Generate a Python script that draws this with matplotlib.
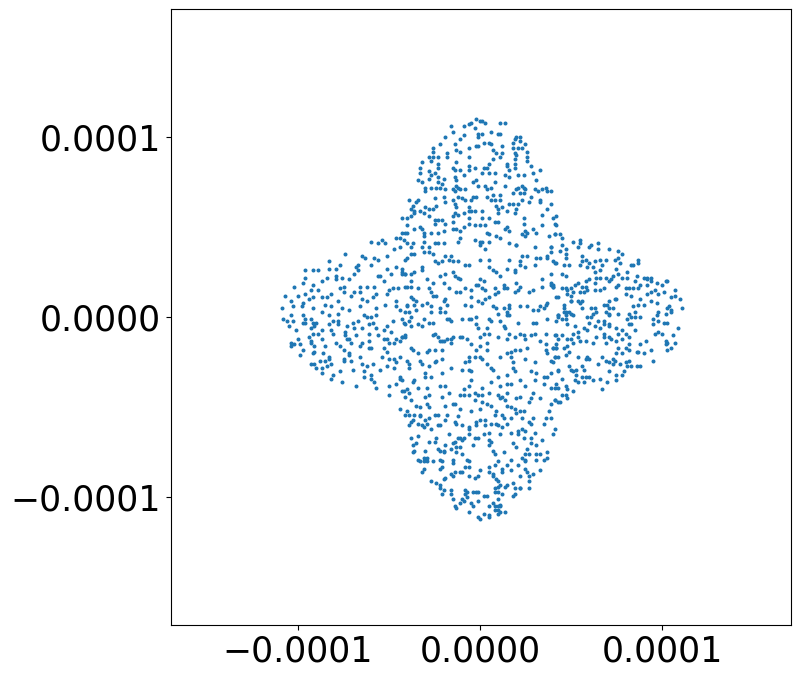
import numpy as np
import matplotlib
matplotlib.use("Agg")
import matplotlib.pyplot as plt

# Values, in units of 1e-6
left_lobe = [
(-109,5),(-107,12),(-102,17),(-96,26),(-96,22),(-92,26),(-89,26),(-83,31),(-74,35),(-83,27),(-79,27),(-77,29),
(-65,34),(-63,33),(-60,42),(-56,41),(-54,43),(-52,41),(-46,44),(-44,39),(-47,38),(-51,34),(-58,33),(-56,32),
(-60,29),(-68,28),(-67,29),(-67,26),(-69,24),(-76,22),(-79,23),(-79,21),(-84,22),(-87,20),(-92,18),(-97,19),
(-100,12),(-96,13),(-93,15),(-89,15),(-82,13),(-84,11),(-87,11),(-92,11),(-94,10),(-97,8),(-104,9),(-103,6),
(-98,6),(-92,5),(-87,3),(-85,7),(-82,6),(-78,9),(-76,5),(-72,4),(-72,21),(-75,17),(-77,16),(-66,17),(-62,17),
(-58,17),(-69,14),(-66,14),(-71,12),(-75,14),(-65,10),(-62,9),(-66,6),(-59,11),(-57,13),(-51,13),(-50,15),
(-57,5),(-52,7),(-46,9),(-48,16),(-53,20),(-56,23),(-55,23),(-51,27),(-46,28),(-41,24),(-43,25),(-49,24),
(-41,17),(-45,16),(-40,6),(-46,6),(-104,1),(-108,-1),(-106,-2),(-103,-2),(-105,-5),(-101,-7),(-97,1),(-96,-1),
(-97,-3),(-96,-3),(-93,-1),(-92,-3),(-90,-3),(-93,-6),(-91,-5),(-89,-9),(-87,-7),(-92,-9),(-94,-11),(-100,-12),
(-104,-14),(-104,-16),(-102,-15),(-99,-15),(-97,-18),(-99,-21),(-93,-13),(-93,-14),(-91,-16),(-87,-12),(-85,-16),
(-92,-20),(-91,-19),(-86,-20),(-83,-22),(-83,-23),(-85,-24),(-82,-26),(-84,-27),(-91,-26),(-93,-26),(-88,-24),
(-90,-28),(-87,-28),(-87,-31),(-81,-32),(-82,-34),(-77,-30),(-76,-36),(-68,-38),(-83,1),(-78,2),(-81,-2),(-78,-2),
(-83,-4),(-78,-4),(-82,-7),(-81,-9),(-73,-5),(-74,-8),(-74,-10),(-70,-3),(-67,-2),(-69,-6),(-68,-10),(-72,-12),
(-73,-12),(-71,-14),(-79,-14),(-77,-16),(-75,-18),(-72,-20),(-72,-21),(-75,-23),(-75,-24),(-71,-24),(-66,-22),
(-65,-14),(-66,-16),(-61,-13),(-61,-17),(-60,-17),(-65,-26),(-62,-27),(-59,-26),(-64,-30),(-64,-33),(-60,-32),
(-60,-34),(-58,-36),(-57,-39),(-70,-29),(-55,-29),(-54,-22),(-50,-23),(-47,-23),(-44,-22),(-46,-25),(-47,-28),
(-51,-27),(-53,-17),(-51,-19),(-50,-14),(-47,-14),(-46,-12),(-43,-11),(-41,-10),(-53,-12),(-51,-12),(-56,-10),
(-57,-6),(-53,-7),(-51,-5),(-49,-8),(-48,-2),(-61,-4),(-59,-3),(-57,1),(-60,0),(-64,1),(-62,0),(-65,-6),(-61,-9),
(-42,-3),(-39,3),(-50,-38),(-46,-37),(-44,-34),(-40,-40),(-42,-41),(-50,-43),
]

right_lobe = [
(51,42),(55,43),(55,41),(54,39),(45,40),(44,37),(47,38),(47,35),(47,33),(39,39),(39,36),(41,46),(44,46),(45,44),
(60,39),(61,40),(65,41),(65,38),(71,38),(74,32),(76,37),(78,35),(76,33),(77,30),(87,32),(87,30),(84,29),(83,29),
(69,32),(66,32),(63,31),(60,30),(58,32),(56,31),(56,34),(55,29),(59,28),(62,28),(67,29),(66,26),(63,25),(75,27),
(46,29),(49,29),(41,30),(45,24),(47,23),(64,22),(66,22),(69,22),(71,20),(73,23),(76,24),(78,22),(81,25),(81,22),
(86,23),(85,20),(90,22),(92,22),(94,22),(92,21),(94,20),(92,18),(88,18),(97,19),(100,18),(102,20),(103,20),(84,16),
(82,16),(80,16),(87,16),(80,13),(83,12),(92,13),(94,14),(96,15),(98,13),(101,14),(107,15),(107,12),(105,11),(110,10),
(88,10),(87,7),(90,7),(94,9),(97,8),(104,6),(103,5),(111,5),(105,4),(105,3),(102,2),(98,3),(97,1),(95,-1),(98,-2),
(101,-3),(103,-3),(95,-4),(109,-6),(98,-8),(96,-9),(100,-9),(106,-10),(102,-13),(103,-14),(107,-14),(102,-15),
(105,-17),(103,-18),(94,-18),(91,-13),(95,-24),(90,-20),(86,-19),(88,-15),(85,-7),(84,6),(85,3),(82,2),(81,-1),
(83,0),(88,0),(85,0),(82,-4),(83,-4),(76,2),(73,5),(70,7),(68,7),(71,5),(75,10),(74,10),(71,9),(76,18),(75,17),
(68,16),(66,15),(63,15),(72,21),(63,19),(60,21),(58,20),(54,19),(52,18),(50,16),(56,17),(58,17),(59,15),(57,14),
(55,14),(51,14),(48,15),(45,16),(47,16),(48,13),(50,12),(43,11),(40,18),(39,18),(40,17),(50,9),(50,9),(54,9),(56,9),
(55,8),(46,7),(46,5),(46,3),(47,3),(49,3),(50,2),(51,1),(47,1),(56,5),(59,0),(61,5),(63,5),(64,3),(62,2),(61,0),
(69,3),(71,1),(71,2),(68,-2),(65,-2),(60,-3),(63,-5),(66,-6),(68,-4),(71,-4),(71,-5),(68,-9),(68,-11),(69,-14),
(64,-11),(43,1),(43,1),(45,-1),(47,-1),(48,-4),(52,-5),(51,-9),(54,-8),(57,-6),(59,-7),(54,-11),(55,-13),(58,-13),
(62,-14),(71,-11),(72,-12),(75,-13),(75,-6),(78,-7),(76,-9),(80,-9),(82,-11),(78,-12),(82,-15),(80,-17),(82,-18),
(76,-17),(75,-20),(78,-20),(87,-19),(42,-10),(45,-10),(43,-12),(48,-12),(50,-12),(51,-14),(48,-16),(46,-17),(42,-17),
(40,-17),(49,-19),(47,-21),(54,-22),(59,-22),(58,-23),(60,-23),(41,-22),(39,-24),(40,-25),(49,-27),(50,-29),(51,-30),
(53,-29),(56,-27),(57,-29),(53,-32),(56,-33),(58,-33),(60,-33),(62,-35),(66,-34),(70,-36),(67,-40),(75,-32),(75,-35),
(78,-32),(79,-30),(81,-27),(82,-24),(80,-25),(83,-27),(86,-27),(88,-27),(67,-22),(65,-26),(69,-24),(71,-25),(73,-23),
(74,-24),(73,-26),(77,-26),(71,-30),(52,-35),(54,-36),(57,-36),(45,-34),(47,-38),(48,-40),(51,-41),(41,-39),(43,-39),
(47,-43),(45,-43),(48,-45),(41,-46),(44,-47),(39,-31),(43,-29),
]

top_lobe = [
(-2,110),(0,109),(1,109),(3,108),(-5,108),(-6,107),(-9,106),(-16,106),(-15,103),(-19,100),(11,108),(14,108),
(-3,105),(-1,102),(1,102),(6,103),(10,102),(11,102),(-9,101),(-11,99),(-1,100),(2,97),(5,97),(6,96),(7,93),(-14,96),
(-22,96),(-13,93),(-11,92),(-2,95),(-1,95),(-6,94),(12,95),(20,100),(22,100),(19,99),(22,98),(18,97),(25,96),(21,94),
(23,94),(18,94),(19,91),(20,90),(26,92),(26,89),(26,87),(19,88),(-26,94),(-26,92),(-28,89),(-26,89),(-27,87),(-23,89),
(-18,91),(-18,89),(-32,86),(-23,85),(-13,86),(-6,89),(12,91),(11,89),(9,91),(7,88),(5,85),(15,85),(19,85),(15,84),
(16,82),(28,84),(33,82),(29,80),(24,79),(19,83),(-23,83),(-33,83),(-33,80),(-28,81),(-27,79),(-25,80),(-15,83),(-14,82),
(-11,82),(-6,84),(-3,83),(-6,82),(2,83),(4,83),(1,80),(5,80),(8,80),(-9,79),(-14,78),(-2,76),(-4,75),(-13,76),(-13,73),
(-12,72),(-23,78),(-23,75),(-21,74),(-20,77),(-28,77),(-34,76),(-32,75),(14,79),(16,78),(21,79),(31,76),(8,75),(14,73),
(3,73),(4,71),(6,72),(-30,72),(-30,70),(-27,72),(-24,72),(-22,72),(-19,71),(-15,71),(-14,70),(-11,71),(-8,71),(-1,73),
(21,72),(23,73),(24,72),(20,71),(18,69),(22,69),(24,69),(25,71),(30,71),(32,70),(36,72),(34,71),(37,70),(39,70),(28,67),
(33,65),(33,64),(27,64),(37,60),(39,63),(-39,65),(-34,65),(-35,64),(-37,62),(-25,66),(-20,67),(-19,64),(-24,62),(-15,65),
(-14,63),(-12,67),(-10,66),(-8,65),(-5,65),(-4,67),(-2,67),(4,67),(6,65),(7,68),(11,68),(11,65),(8,65),(9,62),(10,60),
(12,61),(16,63),(18,63),(21,63),(23,65),(20,60),(-38,60),(-36,59),(-33,59),(-30,61),(-28,60),(-26,60),(-13,61),(-6,61),
(-5,59),(-6,59),(-3,59),(1,59),(-12,57),(-14,58),(-15,56),(-15,53),(-36,58),(-38,56),(-40,55),(-43,55),(-31,58),(-28,56),
(-25,54),(-23,54),(-21,54),(-9,58),(-6,55),(-6,52),(-3,51),(0,51),(1,55),(5,55),(8,53),(10,53),(10,58),(15,59),(19,58),
(24,55),(24,52),(34,57),(40,55),(42,56),(41,52),(34,51),(-19,52),(-25,52),(-36,49),(-40,51),(-33,50),(-32,49),(-15,49),
(-13,49),(-11,48),(-9,50),(3,51),(15,50),(14,49),(16,48),(25,48),(26,47),(23,46),(25,45),(29,49),(31,47),(38,45),(41,46),
(42,51),(-43,47),(-41,47),(-40,47),(-44,44),(-42,43),(-31,47),(-31,45),(-27,47),(-23,47),(-20,48),(4,47),(5,46),(9,45),
(11,44),(-11,44),(-12,42),(-3,43),(0,42),(1,42),(-31,42),(-37,41),(-40,41),(-28,39),(-25,41),(-23,41),(-20,41),(-32,39),
(-38,39),(0,40),(3,38),(5,42),(16,41),(20,40),(20,40),(30,39),(39,39),
]

centre = [
(-38,35),(-36,35),(-31,36),(-28,36),(-26,35),(-40,33),(-41,32),(-19,34),(-16,34),(-17,32),(-15,31),(-12,31),(-25,31),
(-23,30),(-21,31),(-8,29),(-6,29),(0,32),(5,32),(5,28),(16,32),(15,27),(22,31),(22,29),(25,28),(26,34),(23,34),(30,29),
(31,33),(33,33),(37,34),(37,33),(40,31),(42,30),(-43,27),(-32,28),(-32,26),(-36,25),(-38,24),(-41,24),(-43,24),(-22,23),
(-19,24),(-15,25),(-14,23),(-12,22),(-11,21),(7,26),(9,25),(11,23),(19,25),(19,26),(34,21),(39,24),(0,21),(2,20),(-20,19),
(-26,19),(-38,20),(-40,17),(-38,17),(-34,16),(-29,21),(-28,16),(-27,14),(-26,12),(-24,12),(-17,16),(-8,16),(-5,15),(-2,18),
(-1,18),(1,16),(3,15),(8,16),(13,18),(13,16),(10,14),(8,13),(5,11),(15,16),(20,19),(22,17),(19,14),(21,15),(29,15),(27,14),
(34,17),(39,19),(40,17),(-13,14),(-11,14),(-5,11),(3,10),(-1,9),(1,8),(-19,10),(-20,9),(-37,10),(-35,9),(-38,11),(-36,7),
(-40,7),(-32,7),(-29,8),(-27,6),(-22,5),(-18,7),(-5,6),(-8,7),(7,6),(9,5),(13,5),(16,7),(16,5),(22,6),(26,6),(33,6),(36,7),
(37,8),(42,11),(-22,3),(-19,3),(-27,3),(-44,4),(-35,4),(-41,3),(-18,-1),(-17,-1),(-16,-2),(-10,-1),(-6,-1),(-5,-1),(-2,0),
(5,-1),(10,2),(15,3),(16,1),(15,1),(29,4),(32,4),(35,5),(37,-1),(43,0),(42,-2),(21,-3),(31,-3),(29,-3),(11,-2),(6,-2),
(-43,-1),(-38,0),(-39,-2),(-31,-1),(-34,-4),(-32,-5),(-28,-3),(-26,-3),(-41,-4),(-38,-5),(-2,-4),(-1,-6),(4,-6),(0,-11),
(2,-9),(5,-9),(13,-5),(14,-6),(16,-9),(22,-9),(19,-11),(-25,-9),(-26,-10),(-23,-11),(-22,-13),(-21,-13),(-20,-13),(-18,-12),
(-16,-12),(-15,-11),(-11,-11),(-10,-11),(-7,-12),(-5,-15),(0,-16),(4,-14),(10,-11),(15,-12),(24,-10),(25,-12),(28,-10),(30,-9),
(33,-13),(36,-9),(41,-10),(-43,-11),(-41,-11),(-44,-13),(-38,-17),(-37,-18),(-25,-18),(-21,-18),(-16,-14),(15,-20),(17,-19),
(19,-18),(22,-18),(26,-17),(36,-15),(40,-17),(42,-17),(42,-15),(-28,-18),(-29,-19),(-34,-20),(-2,-18),(4,-18),(-40,-24),
(-39,-26),(-39,-28),(-33,-24),(-32,-26),(-28,-27),(-25,-25),(-24,-24),(-21,-23),(-6,-22),(-6,-24),(-8,-25),(-3,-22),(0,-22),
(1,-23),(4,-26),(6,-28),(7,-29),(11,-22),(17,-22),(18,-25),(18,-28),(25,-23),(30,-25),(36,-18),(37,-20),(41,-22),(43,-22),
(-16,-28),(-10,-29),(-6,-29),(-5,-30),(19,-30),(28,-30),(31,-31),(35,-33),(37,-33),(43,-30),(-30,-31),(-30,-33),(-27,-33),
(-21,-31),(-5,-35),(15,-32),(10,-33),(6,-36),(-44,-33),(-43,-35),(-36,-35),(-37,-36),(-34,-39),(-29,-39),(-22,-38),(-19,-38),
(-9,-40),(-6,-38),(1,-39),(11,-38),(15,-37),(17,-37),(25,-38),(22,-35),(30,-35),(35,-37),(39,-39),(42,-37),
]

bottom_lobe = [
(-43,-41),(-41,-44),(-39,-42),(-38,-46),(-30,-44),(-28,-43),(-21,-44),(-17,-42),(-11,-43),(-9,-43),(-6,-43),(-3,-42),(-1,-43),
(1,-43),(5,-42),(10,-43),(12,-44),(15,-42),(11,-45),(14,-46),(22,-44),(20,-45),(33,-45),(29,-42),(-14,-48),(-19,-49),(-29,-48),
(-28,-50),(-35,-49),(-33,-50),(-44,-51),(-40,-52),(-41,-54),(-39,-54),(-36,-54),(-33,-54),(-15,-48),(-11,-51),(-5,-52),(0,-51),
(4,-48),(6,-49),(-3,-46),(1,-47),(15,-49),(17,-50),(19,-51),(20,-53),(22,-52),(24,-52),(27,-47),(28,-45),(41,-46),(39,-48),
(38,-52),(43,-47),(9,-52),(8,-54),(12,-54),(13,-56),(-18,-54),(-23,-54),(-25,-54),(-28,-56),(-30,-57),(-29,-59),(-33,-55),
(-37,-57),(-38,-58),(-34,-59),(-32,-60),(-39,-60),(-31,-61),(-27,-62),(-23,-60),(-22,-60),(-19,-57),(-14,-58),(-13,-59),
(-10,-60),(-12,-55),(-6,-61),(-6,-62),(-2,-58),(0,-57),(3,-57),(-2,-60),(3,-60),(6,-59),(9,-59),(10,-60),(12,-61),(15,-59),
(17,-56),(23,-56),(27,-58),(29,-56),(28,-59),(23,-62),(21,-63),(25,-63),(35,-59),(36,-56),(39,-56),(41,-62),(40,-65),(30,-64),
(28,-67),(-38,-67),(-34,-66),(-37,-71),(-35,-70),(-17,-65),(-24,-67),(-25,-69),(-28,-69),(-19,-71),(-15,-70),(-14,-69),(-12,-67),
(-11,-67),(-9,-67),(-10,-68),(-6,-65),(-3,-67),(-1,-67),(2,-65),(5,-64),(5,-68),(6,-69),(5,-71),(-4,-71),(11,-65),(17,-64),
(21,-65),(24,-67),(18,-70),(20,-72),(28,-70),(31,-71),(34,-68),(26,-73),(-36,-74),(-37,-75),(-30,-74),(-23,-73),(-22,-74),
(-20,-74),(-20,-75),(-16,-73),(-13,-72),(-11,-72),(-13,-75),(-10,-76),(7,-74),(8,-76),(13,-75),(25,-76),(27,-76),(31,-76),
(33,-76),(37,-75),(35,-79),(37,-78),(-34,-79),(-33,-80),(-31,-78),(-29,-78),(-29,-80),(-31,-80),(-26,-80),(-22,-79),(-21,-80),
(-15,-79),(-15,-81),(-7,-79),(-6,-80),(17,-79),(23,-78),(25,-79),(25,-80),(31,-79),(10,-80),(8,-82),(-21,-83),(-22,-84),
(-31,-84),(-32,-86),(-6,-83),(-8,-83),(-10,-86),(-11,-86),(-14,-86),(-16,-87),(-15,-88),(-19,-89),(-20,-90),(-27,-91),(-24,-92),
(0,-85),(5,-83),(5,-86),(7,-87),(7,-88),(12,-84),(12,-86),(15,-82),(17,-85),(21,-82),(25,-84),(26,-86),(33,-85),(29,-87),(27,-88),
(22,-88),(-1,-88),(-6,-88),(-3,-89),(9,-90),(10,-91),(11,-93),(10,-94),(8,-95),(-22,-93),(-22,-95),(-20,-96),(-21,-98),(-16,-96),
(-16,-98),(-8,-96),(-7,-97),(-8,-98),(-7,-100),(-4,-97),(-2,-97),(-1,-97),(2,-99),(4,-99),(8,-97),(10,-97),(12,-98),(10,-101),
(14,-94),(15,-93),(18,-92),(19,-95),(22,-95),(22,-95),(19,-98),(18,-99),(27,-91),(27,-95),(-15,-101),(-10,-101),(-9,-102),
(-11,-103),(-5,-103),(-4,-105),(-1,-102),(7,-103),(11,-104),(11,-105),(5,-105),(8,-105),(10,-105),(-14,-105),(-13,-106),(-6,-108),
(8,-107),(10,-107),(11,-108),(14,-108),(-1,-111),(2,-109),(5,-110),(5,-111),(10,-109),(0,-112),
]

tick_values = [-0.0001, 0.0, 0.0001]
unit = 1e-6

points = np.array(left_lobe + right_lobe + top_lobe + centre + bottom_lobe, dtype=float) * unit

fig = plt.figure(figsize=(8.0, 6.79), dpi=100)
ax = fig.add_axes([171 / 800, 1 - 624.5 / 679, 620 / 800, 615.5 / 679])
ax.scatter(points[:, 0], points[:, 1], s=3.5, color="#1f77b4")
ax.set_xlim(-1.698e-4, 1.709e-4)
ax.set_ylim(-1.705e-4, 1.711e-4)
ax.set_xticks(tick_values)
ax.set_yticks(tick_values)
ax.tick_params(labelsize=25)
fig.savefig("out.png", dpi=100)
